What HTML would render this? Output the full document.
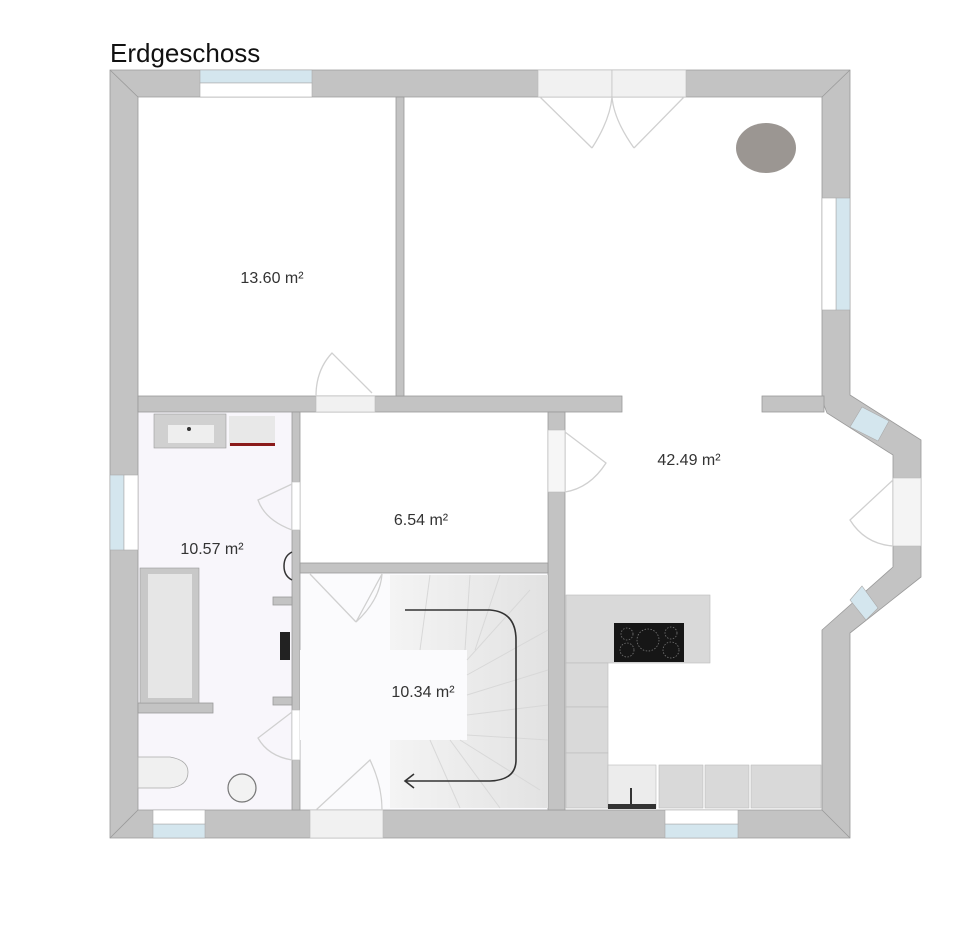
<!DOCTYPE html>
<html><head><meta charset="utf-8"><style>
html,body{margin:0;padding:0;background:#fff;}
svg{display:block;}
text{font-family:"Liberation Sans",sans-serif;}
</style></head><body>
<svg width="960" height="932" viewBox="0 0 960 932" xmlns="http://www.w3.org/2000/svg">
<defs>
<linearGradient id="st" x1="0" y1="0" x2="1" y2="0"><stop offset="0" stop-color="#f4f4f4"/><stop offset="1" stop-color="#e2e2e2"/></linearGradient>
</defs>
<rect width="960" height="932" fill="#fff"/>
<text x="110" y="62" font-size="26" fill="#111">Erdgeschoss</text>

<rect x="138" y="412" width="154" height="398" fill="#f8f6fb"/>
<rect x="300" y="573" width="248" height="237" fill="#fbfbfd"/>

<g fill="#c3c3c3" stroke="#9a9a9a" stroke-width="0.8">
<path d="M110 70 H850 V395 L921 440 V577 L850 633 V838 H110 Z M138 97 V810 H822 V630 L893 567 V455 L827 413 L822 400 V97 Z" fill-rule="evenodd"/>
<rect x="138" y="396" width="484" height="16"/>
<rect x="762" y="396" width="62" height="16"/>
<rect x="396" y="97" width="8" height="299"/>
<rect x="292" y="412" width="8" height="398"/>
<rect x="548" y="412" width="17" height="398"/>
<rect x="300" y="563" width="248" height="10"/>
<rect x="138" y="703" width="75" height="10"/>
<rect x="273" y="597" width="19" height="8"/>
<rect x="273" y="697" width="19" height="8"/>
</g>
<g stroke="#9a9a9a" stroke-width="0.8">
<line x1="110" y1="70" x2="138" y2="97"/><line x1="850" y1="70" x2="822" y2="97"/>
<line x1="110" y1="838" x2="138" y2="810"/><line x1="850" y1="838" x2="822" y2="810"/>
</g>

<g stroke="#aaa" stroke-width="0.6">
<rect x="200" y="70" width="112" height="13" fill="#d4e6ee"/><rect x="200" y="83" width="112" height="14" fill="#fff"/>
<rect x="836" y="198" width="14" height="112" fill="#d4e6ee"/><rect x="822" y="198" width="14" height="112" fill="#fff"/>
<rect x="110" y="475" width="14" height="75" fill="#d4e6ee"/><rect x="124" y="475" width="14" height="75" fill="#fff"/>
<rect x="153" y="824" width="52" height="14" fill="#d4e6ee"/><rect x="153" y="810" width="52" height="14" fill="#fff"/>
<rect x="665" y="824" width="73" height="14" fill="#d4e6ee"/><rect x="665" y="810" width="73" height="14" fill="#fff"/>
<polygon points="862,407 889,421 878,441 850,427" fill="#d4e6ee"/>
<polygon points="850,600 862,586 878,608 866,620" fill="#d4e6ee"/>
</g>
<g fill="#f1f1f1" stroke="#bbb" stroke-width="0.6">
<rect x="538" y="70" width="74" height="27"/><rect x="612" y="70" width="74" height="27"/>
<rect x="316" y="396" width="59" height="16"/>
<rect x="548" y="430" width="17" height="62" fill="#f6f6f6"/>
<rect x="893" y="478" width="28" height="68" fill="#f4f4f4"/>
<rect x="292" y="482" width="8" height="48" fill="#fff"/>
<rect x="292" y="710" width="8" height="50" fill="#fff"/>
<rect x="310" y="810" width="73" height="28"/>
</g>
<g fill="none" stroke="#d0d0d0" stroke-width="1.3">
<path d="M540 97 L592 148 M592 148 Q610 120 612 97 M684 97 L634 148 M634 148 Q614 120 612 97"/>
<path d="M372 393 L332 353 Q316 370 316 396"/>
<path d="M565 432 L606 463 Q590 488 565 492"/>
<path d="M893 480 L850 520 Q865 544 893 546"/>
<path d="M292 484 L258 500 Q265 520 292 530"/>
<path d="M292 712 L258 738 Q268 756 292 760"/>
<path d="M382 574 L356 622 Q380 600 382 574 M310 574 L356 622"/>
<path d="M316 810 L370 760 Q382 785 382 810"/>
</g>

<ellipse cx="766" cy="148" rx="30" ry="25" fill="#9b9692"/>

<rect x="390" y="575" width="158" height="233" fill="url(#st)"/>
<rect x="300" y="650" width="167" height="90" fill="#fbfbfd"/>
<g stroke="#d8d8d8" stroke-width="1">
<line x1="430" y1="575" x2="420" y2="650"/><line x1="470" y1="575" x2="465" y2="650"/>
<line x1="500" y1="575" x2="475" y2="650"/><line x1="530" y1="590" x2="467" y2="660"/>
<line x1="548" y1="630" x2="467" y2="675"/><line x1="548" y1="670" x2="467" y2="695"/>
<line x1="548" y1="705" x2="467" y2="715"/><line x1="548" y1="740" x2="467" y2="735"/>
<line x1="540" y1="790" x2="460" y2="740"/><line x1="500" y1="808" x2="450" y2="740"/>
<line x1="460" y1="808" x2="430" y2="740"/>
</g>
<path d="M405 610 H490 Q516 612 516 640 V760 Q516 780 490 781 H405 M414 774 L405 781 L414 788" fill="none" stroke="#333" stroke-width="1.6"/>

<rect x="154" y="414" width="72" height="34" fill="#d0d0d0" stroke="#999" stroke-width="0.6"/>
<rect x="168" y="425" width="46" height="18" fill="#eee"/>
<circle cx="189" cy="429" r="2" fill="#333"/>
<rect x="229" y="416" width="46" height="30" fill="#e8e8e8"/><rect x="230" y="443" width="45" height="3" fill="#8a1a1a"/>
<rect x="140" y="568" width="59" height="135" fill="#c8c8c8" stroke="#999" stroke-width="0.6"/>
<rect x="148" y="574" width="44" height="124" fill="#e6e6e6"/>
<path d="M138 757 H170 Q188 760 188 772 Q188 786 170 788 H138 Z" fill="#f0f0f0" stroke="#aaa" stroke-width="0.8"/>
<circle cx="242" cy="788" r="14" fill="#f2f2f2" stroke="#777" stroke-width="1.2"/>
<rect x="280" y="632" width="10" height="28" fill="#222"/>
<path d="M292 552 Q284 556 284 566 Q284 576 292 580" fill="none" stroke="#333" stroke-width="1.5"/>

<g fill="#d9d9d9" stroke="#bbb" stroke-width="0.6">
<rect x="566" y="595" width="144" height="68"/>
<rect x="566" y="663" width="42" height="44"/><rect x="566" y="707" width="42" height="46"/><rect x="566" y="753" width="42" height="55"/>
<rect x="608" y="765" width="48" height="43" fill="#ececec"/>
<rect x="659" y="765" width="44" height="43"/><rect x="705" y="765" width="44" height="43"/><rect x="751" y="765" width="70" height="43"/>
</g>
<rect x="608" y="804" width="48" height="5" fill="#333"/><rect x="630" y="788" width="2" height="16" fill="#333"/>
<rect x="614" y="623" width="70" height="39" fill="#161616"/>
<g fill="none" stroke="#777" stroke-width="0.8" stroke-dasharray="1.5 1.5">
<circle cx="627" cy="634" r="6"/><circle cx="627" cy="650" r="7"/><circle cx="648" cy="640" r="11"/><circle cx="671" cy="633" r="6"/><circle cx="671" cy="650" r="8"/>
</g>

<g font-size="16" fill="#333" text-anchor="middle">
<text x="272" y="283">13.60 m²</text>
<text x="689" y="465">42.49 m²</text>
<text x="421" y="525">6.54 m²</text>
<text x="212" y="554">10.57 m²</text>
<text x="423" y="697">10.34 m²</text>
</g>
</svg>
</body></html>
